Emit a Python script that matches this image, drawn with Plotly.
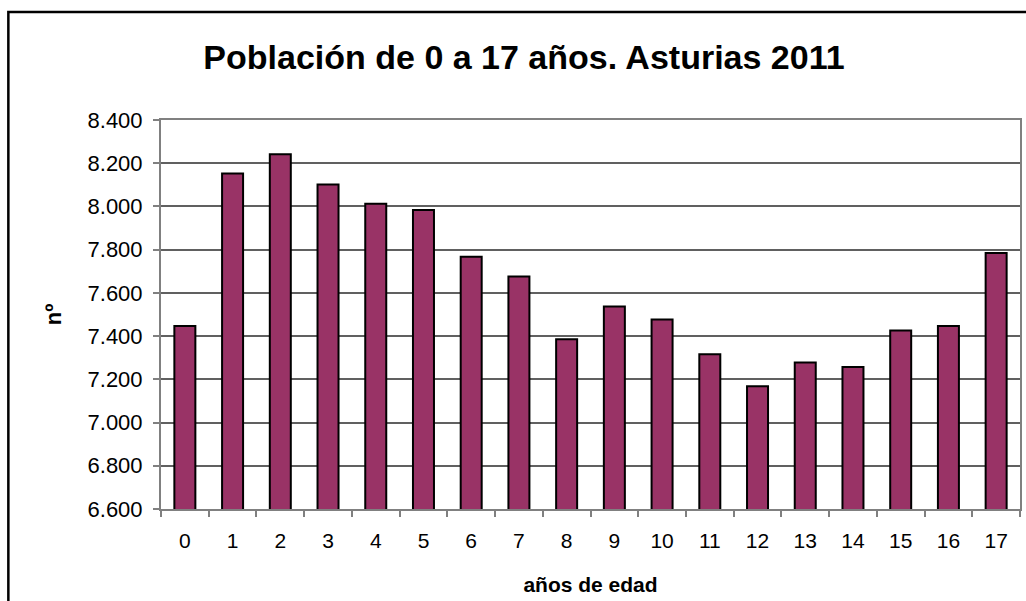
import plotly.graph_objects as go

edades = [str(i) for i in range(18)]
poblacion = [7447, 8152, 8242, 8102, 8012, 7984, 7767, 7676, 7386,
             7537, 7477, 7316, 7168, 7278, 7257, 7426, 7447, 7785]

titulo = "Población de 0 a 17 años. Asturias 2011"
titulo_x = "años de edad"
titulo_y = "nº"

W, H = 1026, 601
ml, mr, mt, mb = 161, 4, 120, 92
pw, ph = W - ml - mr, H - mt - mb

def px(xp):
    return (xp - ml) / pw

def py(yp):
    return (H - mb - yp) / ph

fig = go.Figure(go.Bar(
    x=edades, y=poblacion,
    marker=dict(color="#993366", line=dict(color="black", width=2)),
    width=0.44,
))

font = "Liberation Sans, Arial, sans-serif"
fig.update_layout(
    width=W, height=H,
    margin=dict(l=ml, r=mr, t=mt, b=mb),
    paper_bgcolor="white", plot_bgcolor="white",
    separators=",.",
    showlegend=False,
    font=dict(family=font, size=21, color="black"),
    title=dict(text="<b>" + titulo + "</b>", font=dict(size=34, family=font, color="black"),
               x=524 / W, xref="container", xanchor="center",
               y=1 - 57 / H, yref="container", yanchor="middle"),
    xaxis=dict(
        type="category", tickson="boundaries", ticks="outside", ticklen=6,
        tickcolor="#808080", tickwidth=1.5,
        showline=True, linecolor="#808080", linewidth=2, mirror=True,
        showgrid=False, tickfont=dict(size=21), ticklabelstandoff=12,
        title=dict(text="<b>" + titulo_x + "</b>", font=dict(size=21), standoff=26),
    ),
    yaxis=dict(
        range=[6600, 8400], dtick=200, tick0=6600, tickformat=",d",
        ticks="outside", ticklen=6, tickcolor="#808080", tickwidth=1.5,
        showline=True, linecolor="#808080", linewidth=2, mirror=True,
        showgrid=True, gridcolor="#606060", gridwidth=1.5,
        tickfont=dict(size=22), ticklabelstandoff=6,
        title=dict(text="<b>" + titulo_y + "</b>", font=dict(size=22), standoff=20),
    ),
    shapes=[dict(type="rect", xref="paper", yref="paper",
                 x0=px(8), x1=px(1040), y0=py(620), y1=py(12),
                 line=dict(color="black", width=2.5), fillcolor="rgba(0,0,0,0)")],
)

fig.write_html("out.html", config={"displayModeBar": False},
               post_script="document.body.style.margin='0';document.body.style.overflow='hidden';")
